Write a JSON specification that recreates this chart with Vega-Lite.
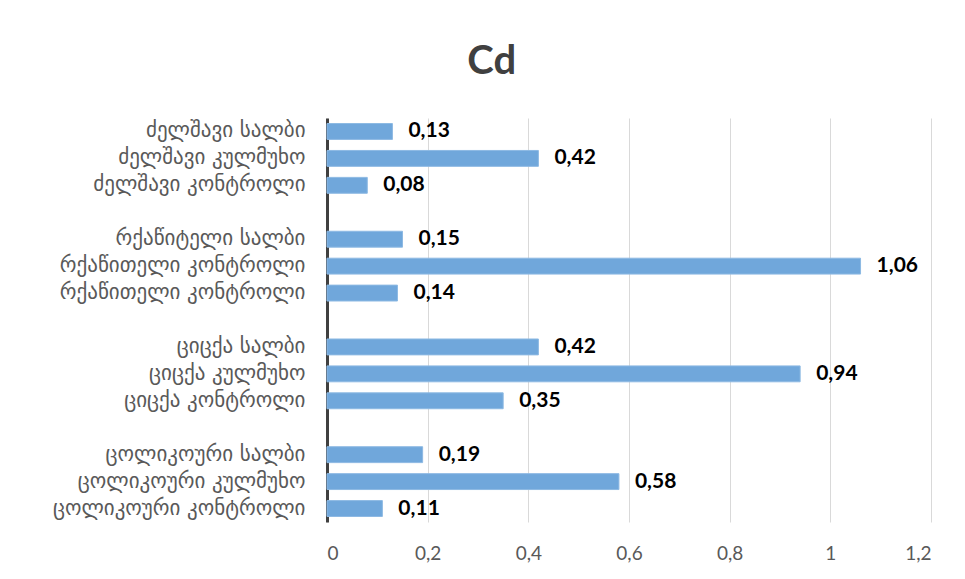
{
  "$schema": "https://vega.github.io/schema/vega-lite/v6.json",
  "width": 604,
  "height": 404,
  "autosize": {"type": "none"},
  "padding": {"left": 327, "top": 118, "right": 34, "bottom": 57},
  "background": "white",
  "config": {
    "locale": {"number": {"decimal": ",", "thousands": " ", "grouping": [3], "currency": ["", " €"]}},
    "view": {"stroke": null}
  },
  "title": {
    "text": "Cd",
    "font": "Lato",
    "fontSize": 40,
    "fontWeight": "bold",
    "color": "#404040",
    "anchor": "middle",
    "frame": "bounds",
    "offset": 36
  },
  "data": {
    "values": [
      {"key": "01|ძელშავი სალბი", "value": 0.13},
      {"key": "02|ძელშავი კულმუხო", "value": 0.42},
      {"key": "03|ძელშავი კონტროლი", "value": 0.08},
      {"key": "05|რქაწიტელი სალბი", "value": 0.15},
      {"key": "06|რქაწითელი კონტროლი", "value": 1.06},
      {"key": "07|რქაწითელი კონტროლი", "value": 0.14},
      {"key": "09|ციცქა სალბი", "value": 0.42},
      {"key": "10|ციცქა კულმუხო", "value": 0.94},
      {"key": "11|ციცქა კონტროლი", "value": 0.35},
      {"key": "13|ცოლიკოური სალბი", "value": 0.19},
      {"key": "14|ცოლიკოური კულმუხო", "value": 0.58},
      {"key": "15|ცოლიკოური კონტროლი", "value": 0.11}
    ]
  },
  "encoding": {
    "y": {
      "field": "key",
      "type": "nominal",
      "scale": {
        "domain": ["01|ძელშავი სალბი", "02|ძელშავი კულმუხო", "03|ძელშავი კონტროლი", "04|", "05|რქაწიტელი სალბი", "06|რქაწითელი კონტროლი", "07|რქაწითელი კონტროლი", "08|", "09|ციცქა სალბი", "10|ციცქა კულმუხო", "11|ციცქა კონტროლი", "12|", "13|ცოლიკოური სალბი", "14|ცოლიკოური კულმუხო", "15|ცოლიკოური კონტროლი"],
        "paddingInner": 0.41,
        "paddingOuter": 0.205
      },
      "axis": {
        "title": null,
        "labelExpr": "split(datum.label, '|')[1]",
        "labelFont": "DejaVu Sans",
        "labelFontSize": 21,
        "labelColor": "#595959",
        "labelPadding": 22,
        "labelLimit": 400,
        "ticks": false,
        "domainColor": "#404040",
        "domainWidth": 3,
        "grid": false
      }
    },
    "x": {
      "field": "value",
      "type": "quantitative",
      "scale": {"domain": [0, 1.2], "nice": false},
      "axis": {
        "title": null,
        "values": [0, 0.2, 0.4, 0.6, 0.8, 1, 1.2],
        "format": "~g",
        "labelFont": "Lato",
        "labelFontSize": 19,
        "labelColor": "#595959",
        "labelPadding": 22,
        "ticks": false,
        "domain": false,
        "grid": true,
        "gridColor": "#D9D9D9",
        "gridWidth": 1
      }
    }
  },
  "layer": [
    {
      "mark": {"type": "bar", "color": "#70A7DB", "stroke": "#8DB9E3", "strokeWidth": 1}
    },
    {
      "mark": {"type": "text", "align": "left", "baseline": "middle", "dx": 16, "font": "Lato", "fontSize": 21, "fontWeight": "bold", "color": "#000000"},
      "encoding": {
        "text": {"field": "value", "type": "quantitative", "format": ".2f"}
      }
    }
  ]
}
